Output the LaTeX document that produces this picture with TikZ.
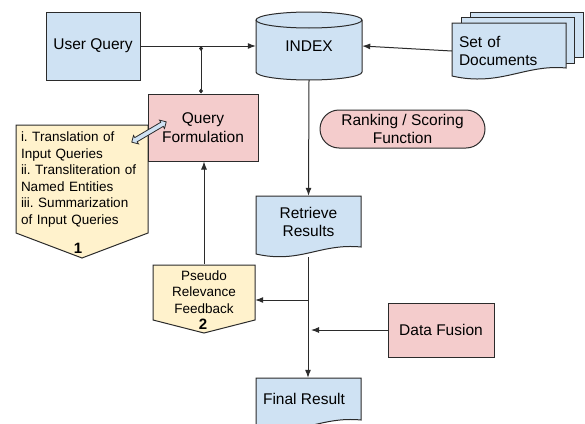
\documentclass[tikz,border=0pt]{standalone}
\usepackage{fontspec}
\setmainfont{Liberation Sans}
\usetikzlibrary{arrows.meta,shapes.arrows}
\definecolor{qblue}{HTML}{CFE2F3}
\definecolor{qpink}{HTML}{F4CCCC}
\definecolor{qyellow}{HTML}{FFF2CC}
\definecolor{qline}{HTML}{2B2B2B}
\tikzset{
  box/.style={draw=qline,line width=1pt,align=center,inner sep=0pt},
  shapeline/.style={draw=qline,line width=1pt},
  flow/.style={draw=qline,line width=1pt,-{Latex[length=8pt,width=6pt]}},
  smalltext/.style={font=\fontsize{13.5}{16.5}\selectfont\frenchspacing},
  digit/.style={font=\fontsize{15}{17}\selectfont\bfseries,inner sep=0pt},
}
\begin{document}
\begin{tikzpicture}[x=1pt,y=-1pt,font=\fontsize{15.5}{18.5}\selectfont]
  \useasboundingbox (0,0) rectangle (585,423);
  \filldraw[shapeline,fill=qblue] (256,20) -- (256,72)
    arc[start angle=180,end angle=360,x radius=53pt,y radius=8pt] -- (362,20)
    arc[start angle=0,end angle=180,x radius=53pt,y radius=8pt] -- cycle;
  \draw[shapeline] (256,20) arc[start angle=180,end angle=360,x radius=53pt,y radius=8pt];
  \filldraw[shapeline,fill=qblue] (470,12) -- (583,12) -- (583,57) -- (470,57) -- cycle;
  \filldraw[shapeline,fill=qblue] (461,17) -- (574,17) -- (574,63) -- (461,63) -- cycle;
  \filldraw[shapeline,fill=qblue] (452,23) -- (566,23) -- (566,68)
    .. controls (525,64) and (500,87) .. (452,76) -- cycle;
  \filldraw[shapeline,fill=qblue] (256,196) -- (361,196) -- (361,247)
    .. controls (320,243) and (300,264) .. (256,254) -- cycle;
  \filldraw[shapeline,fill=qblue] (256,378) -- (361,378) -- (361,420)
    .. controls (320,416) and (300,437) .. (256,427) -- cycle;
  \filldraw[shapeline,fill=qyellow] (16,125) -- (148,125) -- (148,233) -- (82,258) -- (16,233) -- cycle;
  \filldraw[shapeline,fill=qyellow] (153,265) -- (255,265) -- (255,320) -- (204,333) -- (153,320) -- cycle;
  \node[box,fill=qblue,minimum width=94pt,minimum height=68pt] (uq) at (93,46) {User Query};
  \node[align=center,inner sep=0pt,minimum width=106pt,minimum height=68pt] (idx) at (309,46) {INDEX};
  \node[align=left,text width=100pt,inner sep=0pt,minimum width=114pt,minimum height=50pt] (sod) at (509,51) {Set of\\Documents};
  \node[box,fill=qpink,minimum width=110pt,minimum height=67pt] (qf) at (203,127.5) {Query\\Formulation};
  \node[box,fill=qpink,rounded corners=19pt,minimum width=165pt,minimum height=38pt] (rank) at (402.5,129) {Ranking / Scoring\\Function};
  \node[smalltext,align=left,text width=122pt,inner sep=0pt] (trans) at (82,179.5) {i. Translation of\\Input Queries\\ii. Transliteration of\\Named Entities\\iii. Summarization\\of Input Queries};
  \node[digit] (one) at (78,248) {1};
  \node[align=center,inner sep=0pt,minimum width=105pt,minimum height=52pt] (rr) at (308.5,222) {Retrieve\\Results};
  \node[smalltext,align=center,inner sep=0pt,minimum width=102pt,minimum height=56pt] (prf) at (204,292) {Pseudo\\Relevance\\Feedback};
  \node[digit] (two) at (203,324) {2};
  \node[box,fill=qpink,minimum width=106pt,minimum height=54pt] (df) at (441,330) {Data Fusion};
  \node[align=center,inner sep=0pt,minimum height=42pt] (fr) at (304,399) {Final Result};
  \node[double arrow,draw=qline,line width=0.8pt,fill=qblue,inner sep=2pt,
    double arrow head extend=2.5pt,minimum height=40pt,rotate=30.5] (tq) at (149,132) {};
  \coordinate (jn) at (201,46);
  \coordinate (rrwave) at (308,257);
  \coordinate (split) at (308,300);
  \coordinate (merge) at (311,330);
  \draw[flow] (uq.east) -- (idx.west);
  \draw[draw=qline,line width=1pt,{Diamond[length=5pt,width=4pt]}-{Diamond[length=5pt,width=4pt]}] (jn) -- (jn |- qf.north);
  \draw[flow] (sod.west) -- (idx.east);
  \draw[flow] (idx.south) -- (rr.north);
  \draw[flow] (rrwave) -- (rrwave |- fr.north);
  \draw[flow] (split) -- (split -| prf.east);
  \draw[flow] (df.west) -- (merge);
  \draw[flow] (prf.north) -- (prf.north |- qf.south);
\end{tikzpicture}
\end{document}
